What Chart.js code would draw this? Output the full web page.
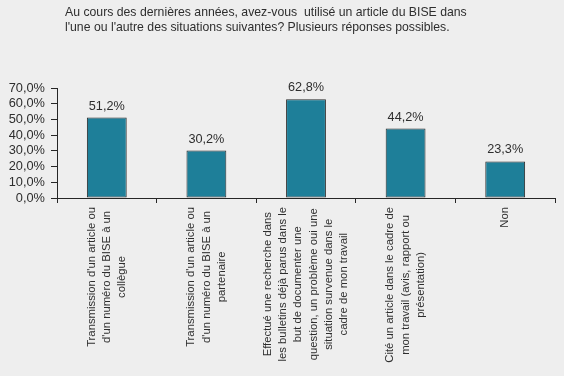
<!DOCTYPE html>
<html>
<head>
<meta charset="utf-8">
<script src="https://cdn.jsdelivr.net/npm/chart.js@4/dist/chart.umd.min.js"></script>
<style>
  html, body { margin: 0; padding: 0; background: #eeeeee; }
  #wrap { width: 564px; height: 376px; }
</style>
</head>
<body>
<div id="wrap"><canvas id="bise" width="564" height="376"></canvas></div>
<script>
// Titre de la question
var titleLines = [
    "Au cours des dernières années, avez-vous  utilisé un article du BISE dans",
    "l'une ou l'autre des situations suivantes? Plusieurs réponses possibles."
];

// Catégories (libellés sur plusieurs lignes)
var categories = [
    ["Transmission d'un article ou", "d'un numéro du BISE à un", "collègue"],
    ["Transmission d'un article ou", "d'un numéro du BISE à un", "partenaire"],
    ["Effectué une recherche dans", "les bulletins déjà parus dans le", "but de documenter une", "question, un problème oui une", "situation survenue dans le", "cadre de mon travail"],
    ["Cité un article dans le cadre de", "mon travail (avis, rapport ou", "présentation)"],
    ["Non"]
];

// Pourcentages
var percentages = [51.2, 30.2, 62.8, 44.2, 23.3];

// Axe Y
var yMax = 70;
var yStep = 10;

var textColor = '#2e2e2e';
var axisColor = '#262626';
var fontFamily = '"Liberation Sans", Arial, sans-serif';

function formatPct(v) {
    return v.toFixed(1).replace('.', ',') + '%';
}

// Titre, valeurs au-dessus des barres et libellés verticaux centrés
var textPlugin = {
    id: 'textPlugin',
    afterDraw: function(chart) {
        var ctx = chart.ctx;
        ctx.save();
        ctx.fillStyle = textColor;

        // titre
        ctx.font = '12.25px ' + fontFamily;
        ctx.textAlign = 'left';
        ctx.textBaseline = 'alphabetic';
        titleLines.forEach(function(line, i) {
            ctx.fillText(line, 65, 16 + i * 15);
        });

        // valeurs
        ctx.font = '12.7px ' + fontFamily;
        var meta = chart.getDatasetMeta(0);
        ctx.textAlign = 'center';
        meta.data.forEach(function(bar, i) {
            ctx.fillText(formatPct(percentages[i]), bar.x, bar.y - 8);
        });

        // libellés de l'axe X
        ctx.font = '11.3px ' + fontFamily;
        var xScale = chart.scales.x;
        var top = xScale.top + 9;
        ctx.textBaseline = 'middle';
        categories.forEach(function(lines, i) {
            var x = xScale.getPixelForValue(i);
            var maxW = 0;
            lines.forEach(function(l) { maxW = Math.max(maxW, ctx.measureText(l).width); });
            var lineH = 15.3;
            ctx.save();
            ctx.translate(x - (lines.length - 1) * lineH / 2, top);
            ctx.rotate(-Math.PI / 2);
            lines.forEach(function(l, j) {
                ctx.fillText(l, -maxW / 2, j * lineH);
            });
            ctx.restore();
        });
        ctx.restore();
    }
};

var ctx = document.getElementById('bise').getContext('2d');
var biseChart = new Chart(ctx, {
    type: 'bar',
    data: {
        labels: categories.map(function(c) { return c.join(' '); }),
        datasets: [{
            data: percentages,
            backgroundColor: '#1e7f99',
            borderColor: '#2b2b2b',
            borderWidth: 1,
            borderSkipped: false,
            barPercentage: 0.4,
            categoryPercentage: 1.0
        }]
    },
    options: {
        responsive: false,
        animation: false,
        layout: {
            padding: { top: 88, right: 9, bottom: 0, left: 0 }
        },
        plugins: {
            legend: { display: false },
            tooltip: { enabled: false },
            title: { display: false }
        },
        scales: {
            x: {
                offset: true,
                grid: {
                    offset: true,
                    drawOnChartArea: false,
                    drawTicks: true,
                    tickLength: 5,
                    color: axisColor
                },
                border: { display: true, color: axisColor },
                ticks: { display: false },
                afterFit: function(scale) { scale.height = 178; }
            },
            y: {
                min: 0,
                max: yMax,
                grid: {
                    drawOnChartArea: false,
                    drawTicks: true,
                    tickLength: 6,
                    color: axisColor
                },
                border: { display: true, color: axisColor },
                ticks: {
                    stepSize: yStep,
                    autoSkip: false,
                    padding: 6,
                    color: textColor,
                    font: { family: fontFamily, size: 12.8 },
                    callback: function(v) { return formatPct(v); }
                },
                afterFit: function(scale) { scale.width = 57; }
            }
        }
    },
    plugins: [textPlugin]
});
</script>
</body>
</html>
